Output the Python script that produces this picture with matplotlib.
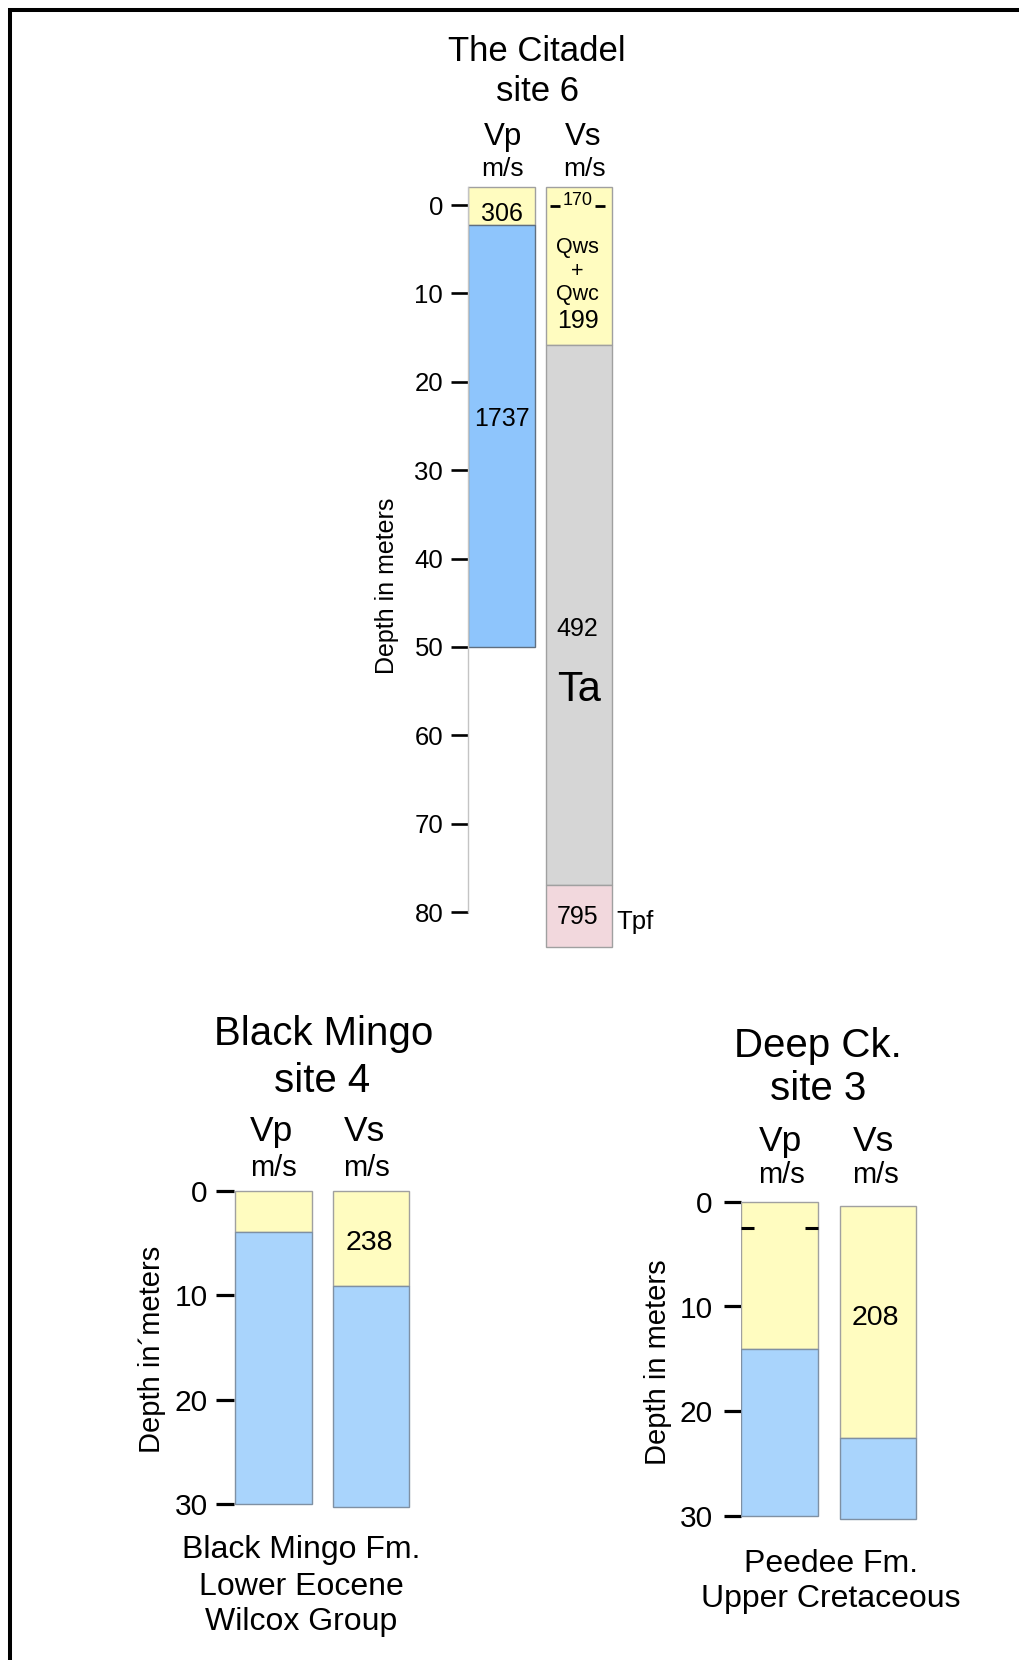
import matplotlib
matplotlib.use('Agg')
import matplotlib.pyplot as plt
from matplotlib.lines import Line2D

plt.rcParams['font.family'] = ['Liberation Sans', 'DejaVu Sans']

W, H, DPI = 1019, 1660, 100

# ---------------- data ----------------
columns = ['Vp', 'Vs']

# The Citadel, site 6  (depths in m, velocities in m/s)
cit_vp_top = [-2.0, 2.3]
cit_vp_base = [2.3, 50.0]
cit_vp_vel = [306, 1737]
cit_vp_mat = ['soft', 'rock']
cit_vs_top = [-2.0, 15.8, 77.0]
cit_vs_base = [15.8, 77.0, 84.0]
cit_vs_vel = [199, 492, 795]
cit_vs_mat = ['soft', 'Ta', 'Tpf']
cit_vs_thin_vel = 170
cit_vs_thin_depth = 0.1
cit_ticks = [0, 10, 20, 30, 40, 50, 60, 70, 80]

# Black Mingo, site 4
bm_vp_top = [0.0, 4.0]
bm_vp_base = [4.0, 30.0]
bm_vs_top = [0.0, 9.1]
bm_vs_base = [9.1, 30.3]
bm_mat = ['soft', 'rock']
bm_vs_vel = 238
bm_ticks = [0, 10, 20, 30]
bm_formation = ['Black Mingo Fm.', 'Lower Eocene', 'Wilcox Group']

# Deep Ck., site 3
dc_vp_top = [0.0, 14.1]
dc_vp_base = [14.1, 30.0]
dc_vs_top = [0.4, 22.5]
dc_vs_base = [22.5, 30.3]
dc_mat = ['soft', 'rock']
dc_vs_vel = 208
dc_vp_marker_depth = 2.5
dc_ticks = [0, 10, 20, 30]
dc_formation = ['Peedee Fm.', 'Upper Cretaceous']

# ---------------- styles ----------------
colors_top = {'soft': '#FFFCC0', 'rock': '#8EC5FC', 'Ta': '#D6D6D6', 'Tpf': '#F2D8DD'}
colors_bot = {'soft': '#FFFCC0', 'rock': '#A9D4FC'}
edge_top = {'soft': '#A0A0A0', 'rock': '#5F6F80', 'Ta': '#A0A0A0', 'Tpf': '#A0A0A0'}
edge_bot = {'soft': '#A0A0A0', 'rock': '#7F90A3'}

fig = plt.figure(figsize=(W / DPI, H / DPI), dpi=DPI)
fig.patch.set_facecolor('white')


def fx(px):
    return px / W


def fy(py):
    return 1 - py / H


def make_axes(left, right, top, bottom, d0, ppm, c0, sp):
    ax = fig.add_axes([fx(left), fy(bottom), (right - left) / W, (bottom - top) / H])
    ax.set_ylim((bottom - d0) / ppm, (top - d0) / ppm)
    ax.set_xlim((left - c0) / sp, (right - c0) / sp)
    ax.patch.set_alpha(0)
    for s in ['top', 'right', 'bottom']:
        ax.spines[s].set_visible(False)
    ax.set_xticks([])
    return ax


def draw_column(ax, x, tops, bases, mats, width, cols, edges):
    for t, b, m in zip(tops, bases, mats):
        ax.bar(x, b - t, bottom=t, width=width, color=cols[m],
               edgecolor=edges[m], linewidth=1.0, zorder=2)


def txt(ax, x, y, s, size, **kw):
    kw.setdefault('ha', 'center')
    kw.setdefault('va', 'center_baseline')
    ax.text(x, y, s, fontsize=size, zorder=5, **kw)


def ftxt(px, py, s, size, **kw):
    kw.setdefault('ha', 'center')
    kw.setdefault('va', 'center_baseline')
    fig.text(fx(px), fy(py), s, fontsize=size, **kw)


# ================= The Citadel =================
w1 = 0.858
ax1 = make_axes(467.5, 700, 175, 965, 205.0, 8.8375, 501.7, 77.5)
draw_column(ax1, 0, cit_vp_top, cit_vp_base, cit_vp_mat, w1, colors_top, edge_top)
draw_column(ax1, 1, cit_vs_top, cit_vs_base, cit_vs_mat, w1, colors_top, edge_top)
ax1.set_yticks(cit_ticks)
ax1.tick_params(axis='y', direction='out', length=12, width=1.9, color='black',
                labelsize=18.5, pad=5.5)
ax1.spines['left'].set_color('#C4C4C4')
ax1.spines['left'].set_linewidth(1.0)
ax1.spines['left'].set_bounds(cit_vp_top[0], cit_ticks[-1])

txt(ax1, 0, 0.75, str(cit_vp_vel[0]), 18)
txt(ax1, 0, 23.9, str(cit_vp_vel[1]), 18)
txt(ax1, 0.98, -0.7, str(cit_vs_thin_vel), 13)
dl = 10 / 77.5
ax1.plot([1 - w1 / 2 + 0.05, 1 - w1 / 2 + 0.05 + dl], [cit_vs_thin_depth] * 2,
         color='black', lw=2.0, solid_capstyle='butt', zorder=4)
ax1.plot([1 + w1 / 2 - 0.09 - dl, 1 + w1 / 2 - 0.09], [cit_vs_thin_depth] * 2,
         color='black', lw=2.0, solid_capstyle='butt', zorder=4)
for s, d in zip(['Qws', '+', 'Qwc'], [4.5, 7.2, 9.8]):
    txt(ax1, 0.98, d, s, 15.5)
txt(ax1, 0.98, 12.8, str(cit_vs_vel[0]), 18)
txt(ax1, 0.98, 47.7, str(cit_vs_vel[1]), 18)
txt(ax1, 1.0, 54.4, cit_vs_mat[1], 30)
txt(ax1, 0.98, 80.3, str(cit_vs_vel[2]), 18)
txt(ax1, 1 + w1 / 2 + 0.057, 80.9, cit_vs_mat[2], 18.5, ha='left')

ftxt(537, 48.3, 'The Citadel', 25)
ftxt(537.5, 88.3, 'site 6', 25)
ftxt(502.5, 133.3, columns[0], 22.5)
ftxt(583, 133.3, columns[1], 22.5)
ftxt(502.8, 166.7, 'm/s', 19)
ftxt(585, 166.7, 'm/s', 19)
fig.text(fx(386.7), fy(585.6), 'Depth in meters', fontsize=18, rotation=90,
         ha='center', va='center')

# ================= Black Mingo =================
w2 = 0.785
ax2 = make_axes(234, 440, 1180, 1515, 1190.7, 10.44, 273.3, 97.7)
draw_column(ax2, 0, bm_vp_top, bm_vp_base, bm_mat, w2, colors_bot, edge_bot)
draw_column(ax2, 1, bm_vs_top, bm_vs_base, bm_mat, w2, colors_bot, edge_bot)
ax2.set_yticks(bm_ticks)
ax2.tick_params(axis='y', direction='out', length=13, width=2.3, color='black',
                labelsize=21.5, pad=6)
ax2.spines['left'].set_visible(False)
txt(ax2, 0.98, 4.7, str(bm_vs_vel), 20.5)

ftxt(323.3, 1030, 'Black Mingo', 29)
ftxt(322.5, 1076.7, 'site 4', 29)
ftxt(271.7, 1128.3, columns[0], 25.5)
ftxt(364.2, 1128.3, columns[1], 25.5)
ftxt(273.3, 1165, 'm/s', 21)
ftxt(366.3, 1165, 'm/s', 21)
fig.text(fx(151.7), fy(1349.8), 'Depth in\u00b4meters', fontsize=21, rotation=90,
         ha='center', va='center')
for s, py in zip(bm_formation, [1546.7, 1583.3, 1618.3]):
    ftxt(301, py, s, 23)

# ================= Deep Ck. =================
w3 = 0.78
ax3 = make_axes(740.5, 960, 1190, 1525, 1201.7, 10.48, 779.3, 98.7)
draw_column(ax3, 0, dc_vp_top, dc_vp_base, dc_mat, w3, colors_bot, edge_bot)
draw_column(ax3, 1, dc_vs_top, dc_vs_base, dc_mat, w3, colors_bot, edge_bot)
ax3.set_yticks(dc_ticks)
ax3.tick_params(axis='y', direction='out', length=12.5, width=2.3, color='black',
                labelsize=21.5, pad=7.5)
ax3.spines['left'].set_visible(False)
dl3 = 13 / 98.7
ax3.plot([-w3 / 2, -w3 / 2 + dl3], [dc_vp_marker_depth] * 2, color='black', lw=2.2,
         solid_capstyle='butt', zorder=4)
ax3.plot([w3 / 2 - dl3, w3 / 2], [dc_vp_marker_depth] * 2, color='black', lw=2.2,
         solid_capstyle='butt', zorder=4)
txt(ax3, 0.97, 10.8, str(dc_vs_vel), 20.5)

ftxt(818.3, 1041.7, 'Deep Ck.', 29)
ftxt(818.3, 1085, 'site 3', 29)
ftxt(780, 1138.3, columns[0], 25.5)
ftxt(873.3, 1138.3, columns[1], 25.5)
ftxt(781.7, 1171.7, 'm/s', 21)
ftxt(875, 1171.7, 'm/s', 21)
fig.text(fx(657.5), fy(1362.5), 'Depth in meters', fontsize=21, rotation=90,
         ha='center', va='center')
for s, py in zip(dc_formation, [1560, 1595]):
    ftxt(831.2, py, s, 23)

# ---------------- frame (top and left only) ----------------
fig.add_artist(Line2D([fx(8.3), 1.0], [fy(10.3), fy(10.3)], color='black',
                      lw=2.9, solid_capstyle='butt', transform=fig.transFigure))
fig.add_artist(Line2D([fx(10.3), fx(10.3)], [fy(8.3), 0.0], color='black',
                      lw=2.9, solid_capstyle='butt', transform=fig.transFigure))

fig.savefig('out.png', dpi=DPI)
